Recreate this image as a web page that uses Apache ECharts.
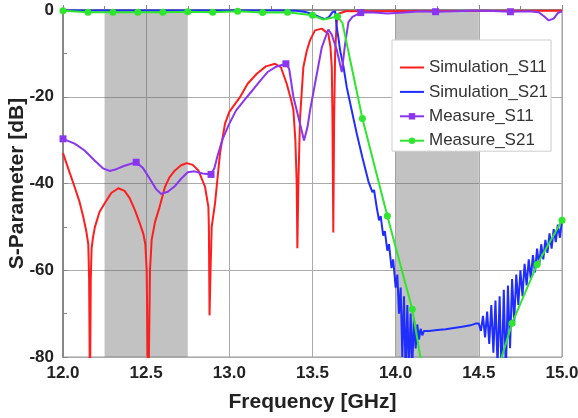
<!DOCTYPE html>
<html>
<head>
<meta charset="utf-8">
<script src="https://cdn.jsdelivr.net/npm/echarts@6/dist/echarts.min.js"></script>
<style>
  html, body { margin: 0; padding: 0; background: #fff; }
  #chart { width: 578px; height: 418px; }
</style>
</head>
<body>
<div id="chart"></div>
<script>
// frequency [GHz], S-parameter [dB]
var simS11 = [
  [12.00, -33], [12.04, -37.5], [12.07, -40.8], [12.10, -44.3], [12.122, -47.7], [12.14, -51],
  [12.152, -54], [12.157, -62], [12.162, -90], [12.167, -62], [12.172, -55], [12.18, -52.5],
  [12.192, -50], [12.22, -46.5], [12.25, -44.6], [12.29, -42.2], [12.333, -41.1], [12.37, -41.7],
  [12.40, -43.3], [12.433, -46.2], [12.46, -49], [12.483, -51.6], [12.495, -54], [12.503, -60],
  [12.513, -90], [12.523, -60], [12.533, -53], [12.553, -48.9], [12.58, -45.5], [12.613, -40.8],
  [12.64, -38.6], [12.673, -37], [12.71, -35.8], [12.744, -35.3], [12.78, -35.7], [12.814, -37],
  [12.854, -40.8], [12.874, -45.4], [12.877, -50], [12.881, -70.4], [12.887, -60], [12.894, -50],
  [12.914, -44.6], [12.944, -33], [12.974, -26.2], [13.00, -23.5], [13.064, -20.1], [13.11, -17],
  [13.165, -14.7], [13.22, -13], [13.275, -12.4], [13.31, -13.2], [13.345, -17], [13.37, -20.5],
  [13.385, -23], [13.397, -30], [13.405, -40], [13.409, -54.9], [13.415, -40], [13.425, -25],
  [13.445, -13.2], [13.465, -9.5], [13.485, -7], [13.515, -4.7], [13.556, -4.3], [13.595, -5.5],
  [13.608, -8.5], [13.616, -13.2], [13.62, -25], [13.625, -51.3], [13.63, -25], [13.636, -10],
  [13.645, -3], [13.66, -0.8], [13.70, -0.3], [15.00, -0.2]
];

var simS21 = [
  [12.00, -0.1], [13.30, -0.1], [13.40, -0.2], [13.45, -0.4], [13.50, -0.9], [13.54, -1.6],
  [13.575, -2.1], [13.60, -1.6], [13.62, -0.5], [13.636, -0.3], [13.646, -4], [13.656, -6.5],
  [13.666, -9.3], [13.686, -13], [13.706, -17.8], [13.735, -23], [13.766, -28.5], [13.80, -34],
  [13.836, -39.5], [13.86, -42], [13.87, -41.5], [13.886, -45.5], [13.90, -48.5], [13.91, -47.5],
  [13.925, -52], [13.935, -51], [13.95, -55.5], [13.96, -54], [13.975, -59.5], [13.985, -57.5],
  [14.00, -64], [14.01, -61], [14.02, -70], [14.03, -64], [14.04, -80], [14.05, -66],
  [14.06, -84], [14.07, -68], [14.08, -84], [14.09, -70], [14.10, -82], [14.11, -71],
  [14.12, -78], [14.13, -72.5], [14.14, -76], [14.15, -73.5], [14.16, -75], [14.17, -74],
  [14.20, -74], [14.25, -73.8], [14.30, -73.6], [14.35, -73.3], [14.40, -73], [14.45, -72.7],
  [14.48, -72.3], [14.50, -72.3],
  [14.5125, -74], [14.525, -70.5], [14.5375, -75.5], [14.55, -69.5], [14.5625, -77], [14.575, -68],
  [14.5875, -79], [14.60, -67], [14.6125, -82], [14.625, -66], [14.6375, -85], [14.65, -64.5],
  [14.6625, -84], [14.675, -63.5], [14.6875, -78], [14.70, -62], [14.7125, -72], [14.725, -61],
  [14.7375, -68], [14.75, -60], [14.7625, -66], [14.775, -58.5], [14.7875, -63.5], [14.80, -57.5],
  [14.8125, -62], [14.825, -56.5], [14.8375, -60.5], [14.85, -55], [14.8625, -59], [14.875, -54],
  [14.8875, -57.5], [14.90, -53], [14.9125, -56], [14.925, -51.5], [14.9375, -55], [14.95, -50.5],
  [14.9625, -53.5], [14.975, -49.5], [14.9875, -52.5], [15.00, -48.5]
];

var measS11 = [
  [12.00, -29.7], [12.07, -30.8], [12.13, -32.4], [12.19, -34.7], [12.24, -36.5], [12.28, -37.1],
  [12.32, -36.7], [12.37, -35.9], [12.44, -35.1], [12.48, -36.4], [12.52, -38.8], [12.56, -41.3],
  [12.59, -42.4], [12.63, -41.9], [12.67, -40.7], [12.71, -38.9], [12.75, -37.4], [12.79, -37.2],
  [12.84, -37.7], [12.89, -37.9], [12.91, -36.5], [12.93, -33.5], [12.96, -29.7], [13.00, -26.2],
  [13.04, -23.2], [13.09, -20.8], [13.14, -18.5], [13.19, -16.1], [13.23, -14.3], [13.28, -13.1],
  [13.34, -12.4], [13.36, -13.6], [13.385, -20], [13.425, -26.2], [13.449, -30.1], [13.47, -27],
  [13.485, -23.2], [13.515, -17], [13.556, -8.6], [13.595, -4.5], [13.615, -5.6], [13.646, -9.2],
  [13.676, -14.3], [13.696, -7.8], [13.716, -2.8], [13.74, -1.6], [13.79, -0.6], [13.85, -0.5],
  [13.95, -0.8], [14.05, -0.6], [14.15, -0.3], [14.24, -0.4], [14.35, -0.3], [14.45, -0.2],
  [14.55, -0.2], [14.69, -0.4], [14.80, -0.3], [14.86, -0.5], [14.89, -1.4], [14.92, -2.4],
  [14.95, -2.0], [14.975, -0.7], [15.00, -0.3]
];
var measS11Marks = [12.00, 12.44, 12.89, 13.34, 13.79, 14.24, 14.69];

var measS21 = [
  [12.00, -0.2], [12.15, -0.5], [12.30, -0.5], [12.45, -0.5], [12.60, -0.5], [12.75, -0.4],
  [12.90, -0.5], [13.05, -0.3], [13.20, -0.6], [13.35, -0.5], [13.50, -1.2], [13.565, -2.2],
  [13.65, -1.5], [13.68, -3], [13.80, -25], [13.95, -47.5], [14.10, -69], [14.25, -103],
  [14.40, -115], [14.55, -91], [14.70, -72.2], [14.85, -58.7], [15.00, -48.5]
];
var measS21Marks = [12.00, 12.15, 12.30, 12.45, 12.60, 12.75, 12.90, 13.05, 13.20, 13.35, 13.50,
  13.65, 13.80, 13.95, 14.10, 14.25, 14.40, 14.55, 14.70, 14.85, 15.00];

var bands = [[12.25, 12.75], [14.0, 14.5]];
var seriesNames = ['Simulation_S11', 'Simulation_S21', 'Measure_S11', 'Measure_S21'];

function marked(points, marks) {
  return points.map(function (p) {
    return marks.indexOf(p[0]) >= 0 ? { value: p } : { value: p, symbol: 'none' };
  });
}

var chart = echarts.init(document.getElementById('chart'));
var font = 'Liberation Sans, Arial, sans-serif';
var lineIcon = 'path://M0,0L24,0L24,2L0,2Z';

chart.setOption({
  animation: false,
  grid: {
    left: 63,
    right: 16,
    top: 10,
    bottom: 61,
    outerBoundsMode: 'none',
    show: true,
    borderColor: '#999',
    borderWidth: 1
  },
  legend: {
    data: [
      { name: seriesNames[0], icon: lineIcon },
      { name: seriesNames[1], icon: lineIcon },
      { name: seriesNames[2] },
      { name: seriesNames[3] }
    ],
    orient: 'vertical',
    left: 392,
    top: 40,
    padding: [19, 3, 2, 7],
    itemWidth: 24,
    itemHeight: 8,
    itemGap: 7.4,
    backgroundColor: '#fff',
    borderColor: '#ccc',
    borderWidth: 1,
    textStyle: {
      fontFamily: font,
      fontSize: 17,
      lineHeight: 14,
      color: '#333'
    }
  },
  xAxis: {
    type: 'value',
    min: 12,
    max: 15,
    interval: 0.5,
    name: 'Frequency [GHz]',
    nameLocation: 'middle',
    nameGap: 35,
    nameMoveOverlap: false,
    nameTextStyle: { fontFamily: font, fontSize: 21, fontWeight: 'bold', color: '#222' },
    axisLine: { lineStyle: { color: '#888', width: 2 } },
    axisTick: { inside: true, length: 5, lineStyle: { color: '#888' } },
    minorTick: { show: true, splitNumber: 2, length: 4, lineStyle: { color: '#888' } },
    axisLabel: {
      margin: 8,
      fontFamily: font,
      fontSize: 17,
      fontWeight: 'bold',
      color: '#222',
      formatter: function (v) { return v.toFixed(1); }
    },
    splitLine: { show: true, lineStyle: { color: '#aaa', width: 1 } }
  },
  yAxis: {
    type: 'value',
    min: -80,
    max: 0,
    interval: 20,
    name: 'S-Parameter [dB]',
    nameLocation: 'middle',
    nameGap: 35,
    nameMoveOverlap: false,
    nameTextStyle: { fontFamily: font, fontSize: 21, fontWeight: 'bold', color: '#222' },
    axisLine: { show: true, lineStyle: { color: '#888', width: 2 } },
    axisTick: { show: true, inside: true, length: 5, lineStyle: { color: '#888' } },
    minorTick: { show: true, splitNumber: 2, length: 4, lineStyle: { color: '#888' } },
    axisLabel: {
      margin: 9,
      fontFamily: font,
      fontSize: 17,
      fontWeight: 'bold',
      color: '#222'
    },
    splitLine: { show: true, lineStyle: { color: '#aaa', width: 1 } }
  },
  series: [
    {
      name: seriesNames[0],
      type: 'line',
      data: simS11,
      symbol: 'none',
      color: '#ff1e1e',
      lineStyle: { width: 2 },
      markArea: {
        silent: true,
        itemStyle: { color: 'rgba(110,110,110,0.42)' },
        data: bands.map(function (b) { return [{ xAxis: b[0] }, { xAxis: b[1] }]; })
      }
    },
    {
      name: seriesNames[1],
      type: 'line',
      data: simS21,
      symbol: 'none',
      color: '#1f2eff',
      lineStyle: { width: 2 }
    },
    {
      name: seriesNames[2],
      type: 'line',
      data: marked(measS11, measS11Marks),
      symbol: 'rect',
      symbolSize: 7,
      showAllSymbol: true,
      color: '#8a35f0',
      lineStyle: { width: 2 }
    },
    {
      name: seriesNames[3],
      type: 'line',
      data: marked(measS21, measS21Marks),
      symbol: 'circle',
      symbolSize: 7,
      showAllSymbol: true,
      color: '#2ee62e',
      lineStyle: { width: 2 }
    }
  ]
});
</script>
</body>
</html>
